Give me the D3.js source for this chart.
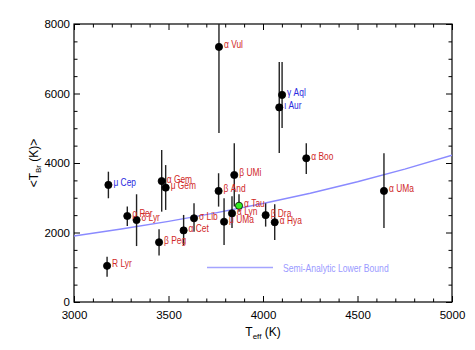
<!DOCTYPE html>
<html>
<head>
<meta charset="utf-8">
<script src="https://cdn.jsdelivr.net/npm/d3@7"></script>
<style>
  body{margin:0;background:#fff;}
  text{font-family:"Liberation Sans",Arial,sans-serif;}
  .lab{font-size:10.5px;}
</style>
</head>
<body>
<svg id="chart" width="475" height="350"></svg>
<script>
// star data
var stars   = ["R Lyr","μ Cep","ρ Per","δ Lyr","β Peg","α Gem","μ Gem","α Cet","σ Lib","β And","α Vul",
               "μ UMa","α Lyn","β UMi","α Tau","β Dra","α Hya","ι Aur","γ Aql","α Boo","α UMa"];
var teff    = [3175,3182,3282,3331,3450,3464,3485,3580,3635,3765,3767,3794,3836,3848,3873,4014,4062,4086,4101,4229,4640];
var tbr     = [1040,3370,2475,2360,1720,3480,3290,2060,2410,3195,7340,2310,2550,3655,2770,2500,2295,5600,5960,4135,3195];
var tbrLow  = [ 730,2985,2190,1610,1335,2600,2650,1640,2025,2745,4865,1640,2130,2745,2600,2170,1785,4290,5005,3685,2130];
var tbrHigh = [1300,3750,2745,3100,2090,4375,3940,2505,2840,3705,8500,2985,3040,4565,3100,2840,2810,6905,6905,4570,4280];
var blueStars = ["μ Cep","ι Aur","γ Aql"];
var highlight = "α Tau";

// semi-analytic lower bound curve
var boundTeff = [3000,3250,3500,3750,4000,4250,4500,4750,5000];
var boundTbr  = [1900,2100,2320,2565,2835,3130,3460,3825,4225];

var xMajor=[3000,3500,4000,4500,5000];
var yMajor=[0,2000,4000,6000,8000];

var svg=d3.select("#chart");
var L=74,R=452,T=24,B=302;
var x=d3.scaleLinear().domain([3000,5000]).range([L,R]);
var y=d3.scaleLinear().domain([0,8000]).range([B,T]);

var xMinor=d3.range(3000,5001,100).filter(function(v){return xMajor.indexOf(v)<0;});
var yMinor=d3.range(0,8001,500).filter(function(v){return yMajor.indexOf(v)<0;});

svg.append("clipPath").attr("id","clip").append("rect")
  .attr("x",L).attr("y",T).attr("width",R-L).attr("height",B-T);

// axes, ticks point inward on all four sides
function ax(gen,tr,vals,size,lab){
  var a=gen.tickValues(vals).tickSize(size).tickSizeOuter(0);
  if(lab) a.tickPadding(lab).tickFormat(d3.format("d")); else a.tickFormat("");
  var g=svg.append("g").attr("transform",tr).call(a);
  g.select(".domain").remove();
  g.selectAll("line").attr("stroke","#000");
  g.selectAll("text").attr("font-size","11.5px").attr("fill","#000")
   .attr("font-family","Liberation Sans, Arial, sans-serif");
  return g;
}
ax(d3.axisBottom(x),"translate(0,"+B+")",xMajor,-6,9);
ax(d3.axisBottom(x),"translate(0,"+B+")",xMinor,-3.5);
ax(d3.axisTop(x),"translate(0,"+T+")",xMajor,-6);
ax(d3.axisTop(x),"translate(0,"+T+")",xMinor,-3.5);
ax(d3.axisLeft(y),"translate("+L+",0)",yMajor,-6,4);
ax(d3.axisLeft(y),"translate("+L+",0)",yMinor,-3.5);
ax(d3.axisRight(y),"translate("+R+",0)",yMajor,-6);
ax(d3.axisRight(y),"translate("+R+",0)",yMinor,-3.5);

svg.append("rect").attr("x",L).attr("y",T).attr("width",R-L).attr("height",B-T)
  .attr("fill","none").attr("stroke","#000").attr("stroke-width",1.2);

// bound curve
var line=d3.line().x(function(d,i){return x(boundTeff[i]);}).y(function(d){return y(d);});
svg.append("path").datum(boundTbr).attr("d",line).attr("clip-path","url(#clip)")
  .attr("fill","none").attr("stroke","#8a8aff").attr("stroke-width",1.4);

// error bars
var idx=d3.range(stars.length);
svg.append("g").attr("clip-path","url(#clip)").selectAll("line").data(idx).enter().append("line")
  .attr("x1",function(i){return x(teff[i]);}).attr("x2",function(i){return x(teff[i]);})
  .attr("y1",function(i){return y(tbrLow[i]);}).attr("y2",function(i){return y(tbrHigh[i]);})
  .attr("stroke","#222").attr("stroke-width",1.4);

// points
svg.append("g").selectAll("circle").data(idx).enter().append("circle")
  .attr("cx",function(i){return x(teff[i]);}).attr("cy",function(i){return y(tbr[i]);})
  .attr("r",3.6)
  .attr("fill",function(i){return stars[i]==highlight?"#33ee22":"#000";})
  .attr("stroke","#000").attr("stroke-width",0.8);

// labels (narrowed, the original uses a condensed face)
svg.append("g").selectAll("text").data(idx).enter().append("text").attr("class","lab")
  .attr("transform",function(i){return "translate("+(x(teff[i])+5)+","+(y(tbr[i])+1.5)+") scale(0.8,1)";})
  .attr("fill",function(i){return blueStars.indexOf(stars[i])>=0?"#2a2ae0":"#d02828";})
  .text(function(i){return stars[i];});

// legend
svg.append("line").attr("x1",207).attr("x2",273).attr("y1",267.5).attr("y2",267.5)
  .attr("stroke","#a4a4ff").attr("stroke-width",1.6);
svg.append("text").attr("class","lab").attr("transform","translate(283,271.5) scale(0.82,1)")
  .attr("fill","#9a9aff").text("Semi-Analytic Lower Bound");

// axis titles
var xt=svg.append("text").attr("x",(L+R)/2).attr("y",336).attr("text-anchor","middle").attr("font-size","12px");
xt.append("tspan").text("T");
xt.append("tspan").attr("font-size","8px").attr("dy",3).text("eff");
xt.append("tspan").attr("dy",-3).text(" (K)");

var yt=svg.append("text").attr("transform","translate(38,"+((T+B)/2)+") rotate(-90)")
  .attr("text-anchor","middle").attr("font-size","12px");
yt.append("tspan").text("<T");
yt.append("tspan").attr("font-size","8px").attr("dy",3).text("Br");
yt.append("tspan").attr("dy",-3).text(" (K)>");
</script>
</body>
</html>
